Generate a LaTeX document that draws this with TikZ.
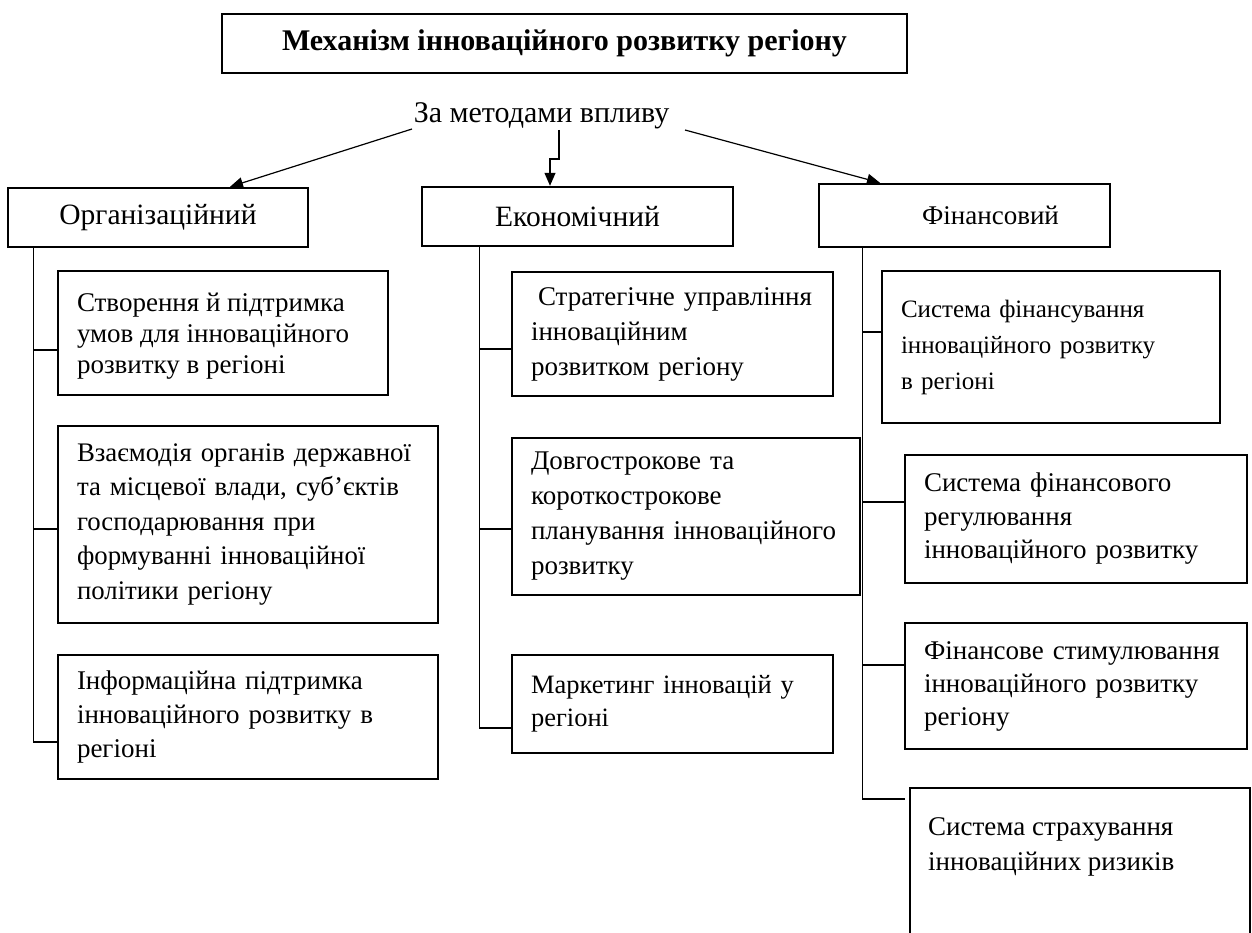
\documentclass[tikz,border=0pt]{standalone}
\usepackage{fontspec}
\setmainfont{Liberation Serif}
\usetikzlibrary{arrows.meta}
\newcommand{\fs}[2]{\fontsize{#1}{#2}\selectfont}
\tikzset{
  box/.style={draw, line width=2.4pt, rectangle, inner xsep=19pt, inner ysep=0pt,
    align=left},
  headbox/.style={draw, line width=2.4pt, rectangle, inner sep=0pt, align=center},
  conn/.style={line width=1.2pt, -{Triangle[length=13pt,width=11pt]}},
  tree/.style={line width=1.2pt}
}
\begin{document}
\begin{tikzpicture}[x=1pt,y=-1pt]
\useasboundingbox (0,0) rectangle (1252,933);
% title
\node[headbox, minimum width=685pt, minimum height=59pt,
  font=\fs{30}{34}\bfseries] (top) at (564.5,43.5)
  {Механізм інноваційного розвитку регіону};
\node[inner sep=0pt, anchor=base, font=\fs{30}{34}] (zm) at (541.5,123)
  {За методами впливу};
% level 1
\node[headbox, minimum width=300pt, minimum height=59pt, font=\fs{29.5}{34}] (org) at (158,217.5) {Організаційний};
\node[headbox, minimum width=311pt, minimum height=59pt, font=\fs{29.5}{34}] (eco) at (577.5,216.5) {Економічний};
\node[headbox, minimum width=291pt, minimum height=63pt, font=\fs{27}{32}] (fin) at (964.5,215.5) {\hspace*{52pt}Фінансовий};
% arrows
\coordinate (zl) at (412,129);
\coordinate (zc) at (559,130);
\coordinate (zr) at (685,130);
\draw[conn] (zl) -- ([xshift=72pt]org.north);
\draw[conn] (zc) -- (559,159) -- (550,159) -- ([xshift=-27.5pt]eco.north);
\draw[conn] (zr) -- ([xshift=-84.5pt]fin.north);
% left column
\node[draw, line width=2.4pt, rectangle, minimum width=330pt, minimum height=124pt,
  inner sep=0pt] (L1) at (223,333) {};
\node[anchor=west, inner sep=0pt, align=left, font=\fs{27}{31}]
  (L1t) at ([xshift=20pt,yshift=-3pt]L1.west)
  {Створення й підтримка\\умов для інноваційного\\розвитку в регіоні};
\node[box, text width=342pt, minimum height=197pt, font=\fs{26.8}{34.5}] (L2) at (248,524.5)
  {Взаємодія органів державної\\та місцевої влади, суб’єктів\\господарювання при\\формуванні інноваційної\\політики регіону};
\node[box, text width=342pt, minimum height=124pt, font=\fs{27}{34}] (L3) at (248,717)
  {Інформаційна підтримка\\інноваційного розвитку в\\регіоні};
% middle column
\node[box, text width=283pt, minimum height=124pt, font=\fs{27}{35}] (M1) at (672.5,334)
  {\hspace*{7pt}Стратегічне управління\\інноваційним\\розвитком регіону};
\node[box, text width=310pt, minimum height=157pt, font=\fs{27}{35}] (M2) at (686,516.5)
  {Довгострокове та\\короткострокове\\планування інноваційного\\розвитку};
\node[box, text width=283pt, minimum height=98pt, font=\fs{26.5}{33}] (M3) at (672.5,704)
  {Маркетинг інновацій у\\регіоні};
% right column
\node[box, text width=300pt, minimum height=152pt, font=\fs{25}{36}] (R1) at (1051,347)
  {Система фінансування\\інноваційного розвитку\\в регіоні};
\node[box, text width=304pt, minimum height=128pt, font=\fs{27}{33.5}] (R2) at (1076,519)
  {Система фінансового\\регулювання\\інноваційного розвитку};
\node[box, text width=304pt, minimum height=126pt, font=\fs{27}{33}] (R3) at (1076,686)
  {Фінансове стимулювання\\інноваційного розвитку\\регіону};
\node[draw, line width=2.4pt, rectangle, anchor=north west, minimum width=340pt,
  minimum height=240pt, inner sep=0pt] (R4) at (909,787) {};
\node[anchor=north west, inner sep=0pt, align=left, font=\fs{27}{35}]
  (R4t) at ([xshift=19pt,yshift=-30pt]R4.north west)
  {Система страхування\\інноваційних ризиків};
% branch points
\coordinate (bL1) at ([yshift=-17pt]L1.west);
\coordinate (bL2) at ([yshift=-4.5pt]L2.west);
\coordinate (bL3) at ([yshift=-25pt]L3.west);
\coordinate (bM1) at ([yshift=-15pt]M1.west);
\coordinate (bM2) at ([yshift=-12.5pt]M2.west);
\coordinate (bM3) at ([yshift=-24pt]M3.west);
\coordinate (bR1) at ([yshift=15pt]R1.west);
\coordinate (bR2) at ([yshift=17pt]R2.west);
\coordinate (bR3) at ([yshift=21pt]R3.west);
\coordinate (bR4) at ([yshift=-12pt,xshift=-4pt]R4.north west);
% tree lines left
\coordinate (lt) at ([xshift=27pt]org.south west);
\draw[tree] (lt) |- (bL3);
\draw[tree] (lt |- bL1) -- (bL1);
\draw[tree] (lt |- bL2) -- (bL2);
% tree lines middle
\coordinate (mt) at ([xshift=59pt]eco.south west);
\draw[tree] (mt) |- (bM3);
\draw[tree] (mt |- bM1) -- (bM1);
\draw[tree] (mt |- bM2) -- (bM2);
% tree lines right
\coordinate (rt) at ([xshift=45pt]fin.south west);
\draw[tree] (rt) |- (bR4);
\draw[tree] (rt |- bR1) -- (bR1);
\draw[tree] (rt |- bR2) -- (bR2);
\draw[tree] (rt |- bR3) -- (bR3);
\end{tikzpicture}
\end{document}
